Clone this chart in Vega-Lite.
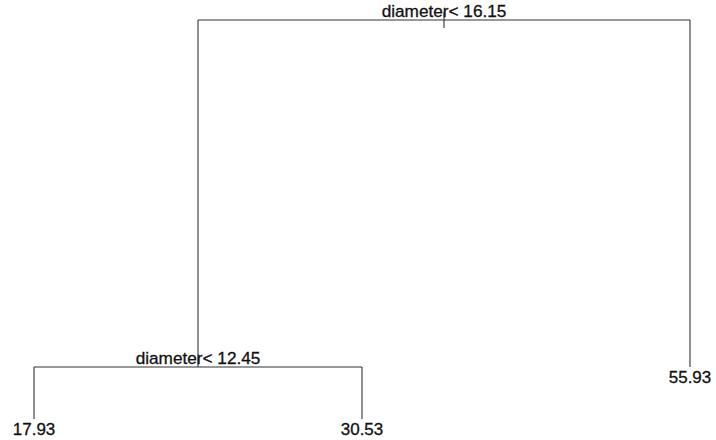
{
  "$schema": "https://vega.github.io/schema/vega-lite/v6.json",
  "width": 716,
  "height": 440,
  "padding": 0,
  "autosize": {"type": "fit", "contains": "padding"},
  "background": "white",
  "config": {"view": {"stroke": null}},
  "datasets": {
    "branches": [
      {"x": 1.5, "x2": 3, "y": 1, "y2": 1},
      {"x": 1.5, "x2": 1.5, "y": 1, "y2": 0.1303},
      {"x": 3, "x2": 3, "y": 1, "y2": 0.1303},
      {"x": 1, "x2": 2, "y": 0.1303, "y2": 0.1303},
      {"x": 1, "x2": 1, "y": 0.1303, "y2": 0},
      {"x": 2, "x2": 2, "y": 0.1303, "y2": 0},
      {"x": 2.25, "x2": 2.25, "y": 1.02, "y2": 0.98}
    ],
    "splits": [
      {"x": 2.25, "y": 1, "label": "diameter< 16.15"},
      {"x": 1.5, "y": 0.1303, "label": "diameter< 12.45"}
    ],
    "leaves": [
      {"x": 1, "y": 0, "label": "17.93"},
      {"x": 2, "y": 0, "label": "30.53"},
      {"x": 3, "y": 0.1303, "label": "55.93"}
    ]
  },
  "encoding": {
    "x": {"field": "x", "type": "quantitative", "scale": {"domain": [0.8963, 3.0793], "nice": false, "zero": false}, "axis": null},
    "y": {"field": "y", "type": "quantitative", "scale": {"domain": [-0.0526, 1.0501], "nice": false, "zero": false}, "axis": null}
  },
  "layer": [
    {
      "data": {"name": "branches"},
      "mark": {"type": "rule", "color": "#333333", "strokeWidth": 1.1},
      "encoding": {
        "x2": {"field": "x2"},
        "y2": {"field": "y2"}
      }
    },
    {
      "data": {"name": "splits"},
      "mark": {"type": "text", "font": "Liberation Sans", "fontSize": 17.2, "color": "#111111", "stroke": "#111111", "strokeWidth": 0.3, "align": "center", "baseline": "alphabetic", "dy": -3},
      "encoding": {"text": {"field": "label"}}
    },
    {
      "data": {"name": "leaves"},
      "mark": {"type": "text", "font": "Liberation Sans", "fontSize": 17, "color": "#111111", "stroke": "#111111", "strokeWidth": 0.3, "align": "center", "baseline": "alphabetic", "dy": 16},
      "encoding": {"text": {"field": "label"}}
    }
  ]
}
